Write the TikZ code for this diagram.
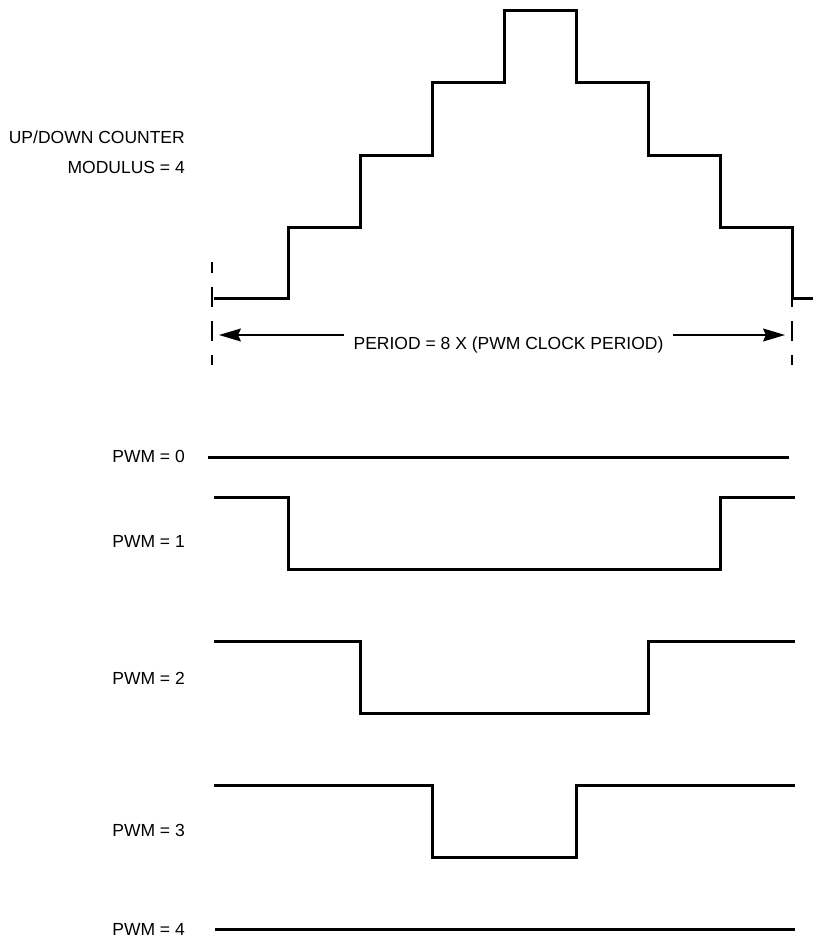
\documentclass[tikz,border=0pt]{standalone}
\usepackage{fontspec}
\setmainfont{Liberation Sans}
\usetikzlibrary{arrows.meta}

\tikzset{
  wave/.style={line width=3pt,line cap=rect},
  lbl/.style={font=\fontsize{17.5}{21}\selectfont,inner sep=0pt},
  periodmark/.style={line width=1.5pt,dash pattern=on 20pt off 14pt,dash phase=9pt},
  dim/.style={line width=1.4pt,-{Stealth[length=22pt,width=13pt,inset=3pt]}}
}

\begin{document}
\begin{tikzpicture}[x=1pt,y=-1pt]
  \useasboundingbox (0,0) rectangle (812,939);
  % counter
  \node[lbl,anchor=base east] (ctr) at (185,143) {UP/DOWN COUNTER};
  \node[lbl,anchor=base east] (mod) at (185,173) {MODULUS = 4};
  \draw[wave] (215,298) -| (288,227) -| (360,155) -| (432,83) -| (504,11)
    -| (576,83) -| (648,155) -| (720,227) -| (792,298) -- (813,298);
  % period
  \foreach \x in {212,792} { \draw[periodmark] (\x,262) -- (\x,365); }
  \coordinate (tl) at (219,335);
  \coordinate (tr) at (785,335);
  \node[lbl,anchor=base,inner xsep=9.5pt] (period) at (508.5,349) {PERIOD = 8 X (PWM CLOCK PERIOD)};
  \draw[dim] (period.west |- tl) -- (tl);
  \draw[dim] (period.east |- tr) -- (tr);
  % pwm outputs
  \node[lbl,anchor=base east] (p0) at (185,462) {PWM = 0};
  \node[lbl,anchor=base east] (p1) at (185,547) {PWM = 1};
  \node[lbl,anchor=base east] (p2) at (185,684) {PWM = 2};
  \node[lbl,anchor=base east] (p3) at (185,836) {PWM = 3};
  \node[lbl,anchor=base east] (p4) at (185,935) {PWM = 4};
  \draw[wave] (209,457) -- (787,457);
  \foreach \k [evaluate=\k as \yh using 353+144*\k,
               evaluate=\k as \xa using 216+72*\k,
               evaluate=\k as \xb using 792-72*\k] in {1,2,3} {
    \draw[wave] (215,\yh) -| (\xa,\yh+72) -| (\xb,\yh) -- (793,\yh);
  }
  \draw[wave] (216,929) -- (793,929);
\end{tikzpicture}
\end{document}
